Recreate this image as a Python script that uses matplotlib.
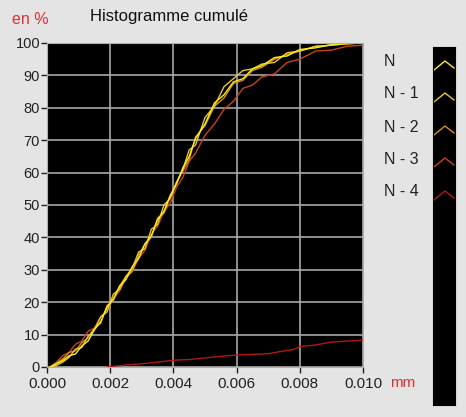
import matplotlib.pyplot as plt

# cumulative histogram data (diameter in mm, cumulative %)
x_n = [0.0001, 0.0003, 0.0005, 0.0007, 0.0009, 0.0011, 0.0013, 0.0015, 0.0017, 0.0019,
       0.0021, 0.0023, 0.0025, 0.0027, 0.0029, 0.0031, 0.0033, 0.0035, 0.0037, 0.0039,
       0.0041, 0.0043, 0.0045, 0.0047, 0.0050, 0.0053, 0.0056, 0.0059, 0.0062, 0.0065,
       0.0068, 0.0072, 0.0076, 0.0080, 0.0085, 0.0090, 0.0095, 0.0100]
y_n = [0, 1, 2, 3.5, 4, 6.5, 8, 11.5, 14, 18.5,
       21, 25, 27, 31, 33.5, 38, 40.5, 45.5, 48, 53,
       56.5, 61.5, 65, 70.5, 75, 81.5, 84, 88, 89, 92,
       93, 95.5, 96, 98, 98.5, 99.5, 99.8, 100]
y_n1 = [0, 0.5, 1.5, 3, 5.5, 6, 9.5, 11.5, 15.5, 17,
        22.5, 24, 28, 30.5, 35.5, 36.5, 42.5, 44, 50, 52,
        57, 61, 67, 68.5, 77, 80.5, 86.5, 89, 91.5, 92,
        93.5, 94, 97, 97.5, 99, 99.3, 99.8, 100]
y_n2 = [0, 1.2, 2.5, 4.5, 5, 7.5, 9, 12, 13.5, 19,
        20.5, 25, 28, 29.5, 34.5, 38, 40, 46, 47.5, 52.5,
        57, 60.5, 64, 71, 74.5, 80.5, 83, 87.5, 88.5, 91.5,
        92.5, 95, 96.5, 97.5, 99, 99.3, 99.8, 100]
y_n3 = [0, 1.5, 3.5, 4.5, 7, 8, 11, 12, 15.5, 17.5,
        21, 23.5, 27.5, 29.5, 33.5, 36, 41, 43.5, 48, 50.5,
        55.5, 58.5, 63.5, 66, 71.5, 75, 79.5, 82, 86, 87,
        89.5, 90.5, 94, 95, 97.5, 97.8, 99, 99.3]
x_n4 = [0.0019, 0.0025, 0.0030, 0.0035, 0.0040, 0.0045, 0.0050, 0.0055, 0.0060,
        0.0065, 0.0070, 0.0074, 0.0078, 0.0080, 0.0085, 0.0090, 0.0095, 0.0100]
y_n4 = [0, 0.6, 1.0, 1.5, 2.1, 2.3, 2.8, 3.3, 3.7,
        3.9, 4.1, 4.8, 5.4, 6.3, 6.8, 7.7, 8.0, 8.3]

names = ['N', 'N - 1', 'N - 2', 'N - 3', 'N - 4']
colors = ['#f4f020', '#e8c828', '#e08a1a', '#c84418', '#b01818']

plt.rcParams['font.family'] = ['Liberation Sans', 'DejaVu Sans']

fig = plt.figure(figsize=(4.66, 4.17), dpi=100, facecolor='#e4e4e4')
ax = fig.add_axes([47 / 466, 50 / 417, 316 / 466, 324 / 417])
ax.set_facecolor('black')

series = [(x_n, y_n), (x_n, y_n1), (x_n, y_n2), (x_n, y_n3), (x_n4, y_n4)]
for (xs, ys), c in zip(series[::-1], colors[::-1]):
    ax.plot(xs, ys, color=c, linewidth=1.0)

ax.set_xlim(0, 0.010)
ax.set_ylim(0, 100)
ax.set_xticks([0, 0.002, 0.004, 0.006, 0.008, 0.010])
ax.set_xticklabels(['0.000', '0.002', '0.004', '0.006', '0.008', '0.010'])
ax.set_yticks(range(0, 101, 10))
ax.grid(True, color='#a8a8a8', linewidth=1.2)
ax.set_axisbelow(True)
ax.tick_params(colors='#222222', length=4, width=1)
ax.tick_params(axis='x', labelsize=11, pad=3)
ax.tick_params(axis='y', labelsize=10.5, pad=1)
for s in ax.spines.values():
    s.set_color('#b0b0b0')

fig.text(12 / 466, 1 - 20 / 417, 'en %', color='#e03030', fontsize=11.5, va='center')
fig.text(90 / 466, 1 - 17 / 417, 'Histogramme cumulé', color='#111111', fontsize=12, va='center')
fig.text(390 / 466, 1 - 383 / 417, 'mm', color='#e03030', fontsize=11, va='center')

# legend labels
label_y = [62, 94, 127, 159, 192]
for name, yy in zip(names, label_y):
    fig.text(384 / 466, 1 - yy / 417, name, fontsize=11.5, color='#222222', va='center')

# legend strip with chevrons
lg = fig.add_axes([433 / 466, 12 / 417, 22 / 466, 358 / 417])
lg.set_facecolor('black')
lg.set_xlim(0, 22)
lg.set_ylim(358, 0)
lg.set_xticks([])
lg.set_yticks([])
for yy, c in zip(label_y, colors):
    yl = yy - 47
    lg.plot([1, 12, 21], [yl + 8, yl - 1, yl + 6], color=c, linewidth=1.0)

fig.savefig('out.png', dpi=100, facecolor=fig.get_facecolor())
